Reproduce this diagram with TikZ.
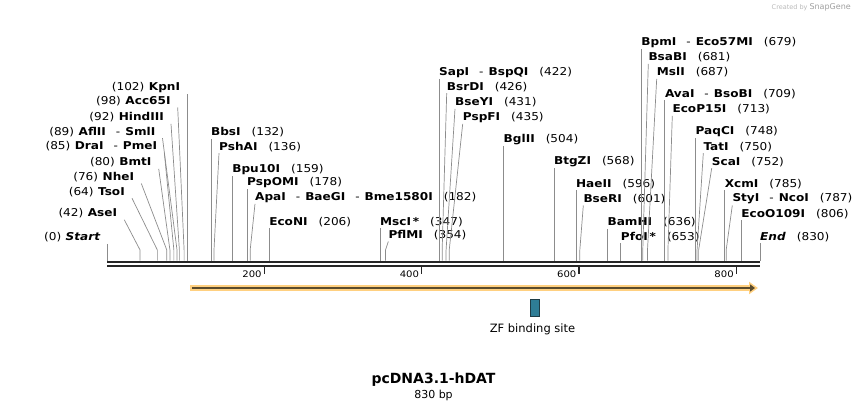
\documentclass[tikz,border=0pt]{standalone}
\usepackage{fontspec}
\setmainfont[FakeStretch=1.12]{DejaVu Sans}
\newfontfamily\plainfont{DejaVu Sans}
\usepackage{tikz}
\usetikzlibrary{arrows.meta,positioning}

\definecolor{cutgray}{RGB}{140,140,140}
\definecolor{featfill}{RGB}{255,208,128}
\definecolor{featdark}{RGB}{90,75,45}
\definecolor{zfteal}{RGB}{46,125,150}
\definecolor{zfedge}{RGB}{30,60,70}

\newcommand\enz[1]{\textbf{#1}}
\newcommand\cutsep{\hspace{10pt}-\hspace{5pt}}
\newcommand\lsite[2]{(#2)\hspace{4.5pt}#1}
\newcommand\rsite[2]{#1\hspace{11pt}(#2)}

\begin{document}
\begin{tikzpicture}[
x=1pt, y=-1pt,
llbl/.style={anchor=south east, inner xsep=0pt, inner ysep=1.2pt, font=\fontsize{10.8}{12}\selectfont},
rlbl/.style={anchor=south west, inner xsep=0pt, inner ysep=1.2pt, font=\fontsize{10.8}{12}\selectfont},
cut/.style={draw=cutgray, line width=0.7pt},
seq/.style={line width=2.7pt, draw=black!85},
tick/.style={line width=1.4pt, draw=black!85},
ticklbl/.style={anchor=east, inner sep=0pt, font=\fontsize{9}{10}\selectfont}
]
    \useasboundingbox (0,0) rectangle (868,411);

    % cut sites on the sequence
    \foreach \p in {0,42,64,76,80,85,89,92,98,102,132,136,159,178,182,206,347,354,
                    422,426,431,435,504,568,596,601,636,653,679,681,687,709,713,
                    748,750,752,785,787,806,830}
        \coordinate (c\p) at ({107+0.78675*\p},260.7);
    \coordinate (kn) at (0,250);

    % sequence
    \coordinate (sq0) at (107,262);
    \coordinate (sq1) at (760,262);
    \draw[seq] (sq0) -- (sq1);
    \draw[seq] ([yshift=-4pt]sq0) -- ([yshift=-4pt]sq1);

    % ruler
    \coordinate (t200) at (264.35,267.3);
    \coordinate (t400) at (421.7,267.3);
    \coordinate (t600) at (579.05,267.3);
    \coordinate (t800) at (736.4,267.3);
    \draw[tick] (t200) -- ++(0,7);
    \draw[tick] (t400) -- ++(0,7);
    \draw[tick] (t600) -- ++(0,7);
    \draw[tick] (t800) -- ++(0,7);
    \node[ticklbl] (n200) at ([xshift=-2.5pt,yshift=-7pt]t200) {200};
    \node[ticklbl] (n400) at ([xshift=-2.5pt,yshift=-7pt]t400) {400};
    \node[ticklbl] (n600) at ([xshift=-2.5pt,yshift=-7pt]t600) {600};
    \node[ticklbl] (n800) at ([xshift=-2.5pt,yshift=-7pt]t800) {800};

    % left labels
    \node[llbl] (kpn) at (180.25,94.5) {\lsite{\enz{KpnI}}{102}};
    \node[llbl] (acc) at (170.7,107.5) {\lsite{\enz{Acc65I}}{98}};
    \node[llbl] (hind) at (164,123.8) {\lsite{\enz{HindIII}}{92}};
    \node[llbl] (afl) at (155.5,138.2) {\lsite{\enz{AflII}\cutsep\enz{SmlI}}{89}};
    \node[llbl] (dra) at (157.3,152.5) {\lsite{\enz{DraI}\cutsep\enz{PmeI}}{85}};
    \node[llbl] (bmt) at (151.7,168.8) {\lsite{\enz{BmtI}}{80}};
    \node[llbl] (nhe) at (134.3,183.5) {\lsite{\enz{NheI}}{76}};
    \node[llbl] (tso) at (125,198.2) {\lsite{\enz{TsoI}}{64}};
    \node[llbl] (ase) at (117.3,219.8) {\lsite{\enz{AseI}}{42}};
    \node[llbl] (start) at (100.7,243.8) {\lsite{\enz{\itshape Start}}{0}};

    \draw[cut] (c102 |- kpn.south) -- (c102);
    \draw[cut] ([xshift=7pt]acc.south east) -- (c98 |- kn) -- (c98);
    \draw[cut] ([xshift=7pt]hind.south east) -- (c92 |- kn) -- (c92);
    \draw[cut] ([xshift=7pt]afl.south east) -- (c89 |- kn) -- (c89);
    \draw[cut] ([xshift=7pt]dra.south east) -- (c85 |- kn) -- (c85);
    \draw[cut] ([xshift=7pt]bmt.south east) -- (c80 |- kn) -- (c80);
    \draw[cut] ([xshift=7pt]nhe.south east) -- (c76 |- kn) -- (c76);
    \draw[cut] ([xshift=7pt]tso.south east) -- (c64 |- kn) -- (c64);
    \draw[cut] ([xshift=7pt]ase.south east) -- (c42 |- kn) -- (c42);
    \draw[cut] (c0 |- start.south) -- (c0);

    % right labels
    \node[rlbl] (bbs) at (210.85,138.8) {\rsite{\enz{BbsI}}{132}};
    \node[rlbl] (psh) at (219,153.2) {\rsite{\enz{PshAI}}{136}};
    \node[rlbl] (bpu) at (232.09,176.5) {\rsite{\enz{Bpu10I}}{159}};
    \node[rlbl] (pspo) at (247.04,189.2) {\rsite{\enz{PspOMI}}{178}};
    \node[rlbl] (apa) at (255,203.8) {\rsite{\enz{ApaI}\cutsep\enz{BaeGI}\cutsep\enz{Bme1580I}}{182}};
    \node[rlbl] (econ) at (269.07,228.2) {\rsite{\enz{EcoNI}}{206}};
    \node[rlbl] (msc) at (380,228.2) {\rsite{\enz{MscI\,*}}{347}};
    \node[rlbl] (pflm) at (388.3,241.5) {\rsite{\enz{PflMI}}{354}};
    \node[rlbl] (sap) at (439.01,78.8) {\rsite{\enz{SapI}\cutsep\enz{BspQI}}{422}};
    \node[rlbl] (bsrd) at (446.7,93.2) {\rsite{\enz{BsrDI}}{426}};
    \node[rlbl] (bsey) at (455,108.8) {\rsite{\enz{BseYI}}{431}};
    \node[rlbl] (pspf) at (462.7,123.8) {\rsite{\enz{PspFI}}{435}};
    \node[rlbl] (bgl) at (503.52,145.8) {\rsite{\enz{BglII}}{504}};
    \node[rlbl] (btgz) at (553.87,168.2) {\rsite{\enz{BtgZI}}{568}};
    \node[rlbl] (hae) at (575.9,190.5) {\rsite{\enz{HaeII}}{596}};
    \node[rlbl] (bser) at (583.3,205.5) {\rsite{\enz{BseRI}}{601}};
    \node[rlbl] (bam) at (607.37,228.8) {\rsite{\enz{BamHI}}{636}};
    \node[rlbl] (pfo) at (620.75,243.2) {\rsite{\enz{PfoI\,*}}{653}};
    \node[rlbl] (bpm) at (641.2,48.8) {\rsite{\enz{BpmI}\cutsep\enz{Eco57MI}}{679}};
    \node[rlbl] (bsab) at (648.3,63.8) {\rsite{\enz{BsaBI}}{681}};
    \node[rlbl] (msl) at (656.7,78.8) {\rsite{\enz{MslI}}{687}};
    \node[rlbl] (ava) at (664.81,100.5) {\rsite{\enz{AvaI}\cutsep\enz{BsoBI}}{709}};
    \node[rlbl] (ecop) at (672.3,115.8) {\rsite{\enz{EcoP15I}}{713}};
    \node[rlbl] (paqc) at (695.49,138.2) {\rsite{\enz{PaqCI}}{748}};
    \node[rlbl] (tat) at (703.3,153.2) {\rsite{\enz{TatI}}{750}};
    \node[rlbl] (sca) at (711.7,168.2) {\rsite{\enz{ScaI}}{752}};
    \node[rlbl] (xcm) at (724.6,190.5) {\rsite{\enz{XcmI}}{785}};
    \node[rlbl] (sty) at (732.3,205.5) {\rsite{\enz{StyI}\cutsep\enz{NcoI}}{787}};
    \node[rlbl] (ecoo) at (741.12,220.5) {\rsite{\enz{EcoO109I}}{806}};
    \node[rlbl] (fin) at (760,243.2) {\rsite{\enz{\itshape End}}{830}};

    \draw[cut] (c132 |- bbs.south) -- (c132);
    \draw[cut] (psh.south west) -- (c136 |- kn) -- (c136);
    \draw[cut] (c159 |- bpu.south) -- (c159);
    \draw[cut] (c178 |- pspo.south) -- (c178);
    \draw[cut] (apa.south west) -- (c182 |- kn) -- (c182);
    \draw[cut] (c206 |- econ.south) -- (c206);
    \draw[cut] (c347 |- msc.south) -- (c347);
    \draw[cut] (pflm.south west) -- (c354 |- kn) -- (c354);
    \draw[cut] (c422 |- sap.south) -- (c422);
    \draw[cut] (bsrd.south west) -- (c426 |- kn) -- (c426);
    \draw[cut] (bsey.south west) -- (c431 |- kn) -- (c431);
    \draw[cut] (pspf.south west) -- (c435 |- kn) -- (c435);
    \draw[cut] (c504 |- bgl.south) -- (c504);
    \draw[cut] (c568 |- btgz.south) -- (c568);
    \draw[cut] (c596 |- hae.south) -- (c596);
    \draw[cut] (bser.south west) -- (c601 |- kn) -- (c601);
    \draw[cut] (c636 |- bam.south) -- (c636);
    \draw[cut] (c653 |- pfo.south) -- (c653);
    \draw[cut] (c679 |- bpm.south) -- (c679);
    \draw[cut] (bsab.south west) -- (c681 |- kn) -- (c681);
    \draw[cut] (msl.south west) -- (c687 |- kn) -- (c687);
    \draw[cut] (c709 |- ava.south) -- (c709);
    \draw[cut] (ecop.south west) -- (c713 |- kn) -- (c713);
    \draw[cut] (c748 |- paqc.south) -- (c748);
    \draw[cut] (tat.south west) -- (c750 |- kn) -- (c750);
    \draw[cut] (sca.south west) -- (c752 |- kn) -- (c752);
    \draw[cut] (c785 |- xcm.south) -- (c785);
    \draw[cut] (sty.south west) -- (c787 |- kn) -- (c787);
    \draw[cut] (c806 |- ecoo.south) -- (c806);
    \draw[cut] (c830 |- fin.south) -- (c830);

    % feature
    \coordinate (fa) at (190,288);
    \coordinate (fb) at (758,288);
    \draw[line width=6.5pt, featfill, -{Triangle[length=9pt,width=12pt]}] (fa) -- (fb);
    \draw[line width=2pt, featdark, -{Triangle[length=5pt,width=7pt]}] ([xshift=2pt]fa) -- ([xshift=-3pt]fb);

    \node[draw=zfedge, fill=zfteal, line width=0.8pt, minimum width=9pt, minimum height=17pt, inner sep=0pt] (zf) at (535,308) {};
    \node[font=\plainfont\fontsize{11.5}{13}\selectfont, inner sep=0pt] (zflbl) at (532.5,329) {ZF binding site};

    % title
    \node[font=\plainfont\bfseries\fontsize{14}{16}\selectfont, inner sep=0pt] (title) at (433.5,380) {pcDNA3.1-hDAT};
    \node[font=\plainfont\fontsize{11}{13}\selectfont, inner sep=0pt] (bp) at (433.5,395) {830 bp};

    \node[anchor=east, inner sep=0pt, text=gray!55, font=\plainfont\fontsize{6.5}{8}\selectfont] (mark) at (851,7) {Created by \textcolor{gray!75}{\fontsize{8}{9}\selectfont SnapGene}};

\end{tikzpicture}
\end{document}
